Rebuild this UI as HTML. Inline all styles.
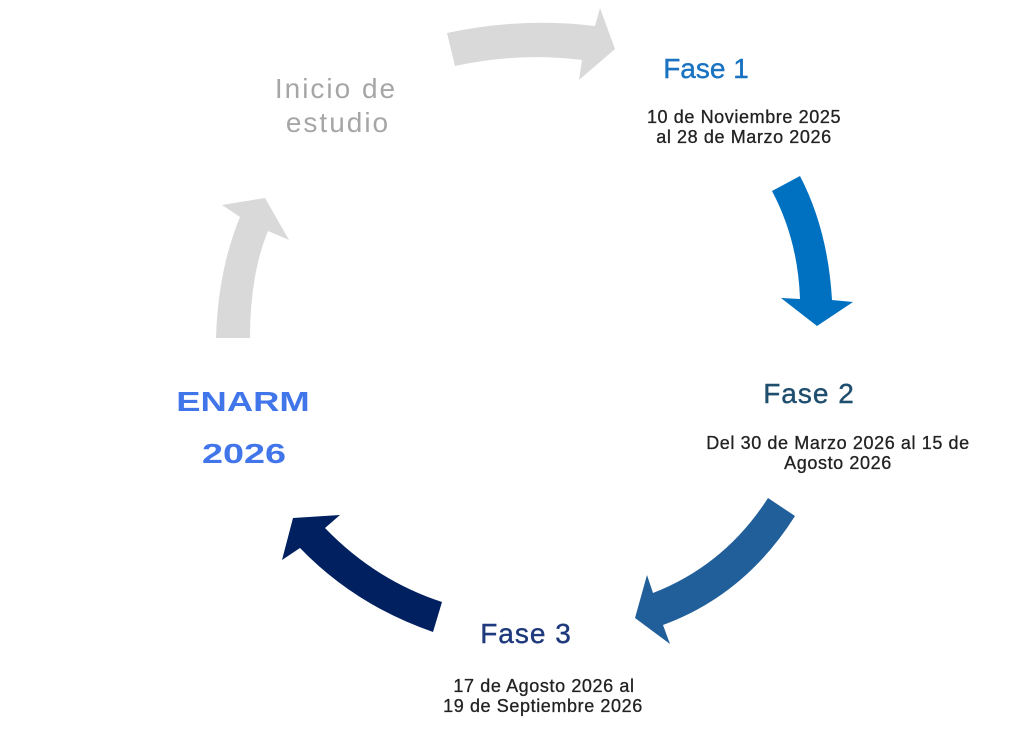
<!DOCTYPE html>
<html>
<head>
<meta charset="utf-8">
<style>
  html, body { margin: 0; padding: 0; background: #ffffff; }
  body { width: 1024px; height: 734px; overflow: hidden; }
  svg { display: block; }
  text { font-family: "Liberation Sans", Arial, sans-serif; }
  .body { font-size: 18px; fill: #222222; stroke: #222222; stroke-width: 0.3; letter-spacing: 0.6px; }
</style>
</head>
<body>
<svg width="1024" height="734" viewBox="0 0 1024 734" xmlns="http://www.w3.org/2000/svg">
  <rect x="0" y="0" width="1024" height="734" fill="#ffffff"/>

  <!-- Arrow 1: top gray, pointing right -->
  <path d="M447,33 Q520,17 595,26 L600,8 L615,49 L579,80 L582,60 Q520,52 455,66 Z" fill="#D9D9D9"/>

  <!-- Arrow 2: blue, pointing down -->
  <path d="M772,191 L800,176 Q828,230 832,300 L853,302 L817,326 L781,298 L800,299 Q798,240 772,191 Z" fill="#0070C0"/>

  <!-- Arrow 3: mid blue, pointing down-left -->
  <path d="M768,498 L795,516 Q745,595 663,625 L670,644 L635,618 L647,575 L653,593 Q725,565 768,498 Z" fill="#215F9A"/>

  <!-- Arrow 4: navy, pointing up-left -->
  <path d="M442,602 L433,632 Q355,605 300,548 L282,560 L293,518 L340,515 L325,528 Q375,580 442,602 Z" fill="#002060"/>

  <!-- Arrow 5: left gray, pointing up -->
  <path d="M216,338 L250,338 Q250,275 268,231 L289,240 L265,198 L222,205 L240,217 Q218,270 216,338 Z" fill="#D9D9D9"/>

  <!-- Inicio de estudio -->
  <text x="336" y="98" font-size="28" fill="#A6A6A6" text-anchor="middle" letter-spacing="2">Inicio de</text>
  <text x="338" y="132" font-size="28" fill="#A6A6A6" text-anchor="middle" letter-spacing="2">estudio</text>

  <!-- Fase 1 -->
  <text x="706" y="78" font-size="28" fill="#1A73C1" text-anchor="middle" stroke="#1A73C1" stroke-width="0.4">Fase 1</text>
  <text class="body" x="744" y="123" text-anchor="middle">10 de Noviembre 2025</text>
  <text class="body" x="744" y="143" text-anchor="middle">al 28 de Marzo 2026</text>

  <!-- Fase 2 -->
  <text x="809" y="403" font-size="28" fill="#1F4E6E" text-anchor="middle" letter-spacing="1" stroke="#1F4E6E" stroke-width="0.4">Fase 2</text>
  <text class="body" x="838" y="449" text-anchor="middle">Del 30 de Marzo 2026 al 15 de</text>
  <text class="body" x="838" y="469" text-anchor="middle">Agosto 2026</text>

  <!-- Fase 3 -->
  <text x="526" y="643" font-size="28" fill="#1E3A7C" text-anchor="middle" letter-spacing="1" stroke="#1E3A7C" stroke-width="0.4">Fase 3</text>
  <text class="body" x="544" y="692" text-anchor="middle">17 de Agosto 2026 al</text>
  <text class="body" x="543" y="712" text-anchor="middle">19 de Septiembre 2026</text>

  <!-- ENARM 2026 -->
  <g transform="translate(243,411) scale(1.3,1)">
    <text x="0" y="0" font-size="28" font-weight="bold" fill="#4175EA" text-anchor="middle">ENARM</text>
  </g>
  <g transform="translate(244,463) scale(1.35,1)">
    <text x="0" y="0" font-size="28" font-weight="bold" fill="#4175EA" text-anchor="middle">2026</text>
  </g>
</svg>
</body>
</html>
